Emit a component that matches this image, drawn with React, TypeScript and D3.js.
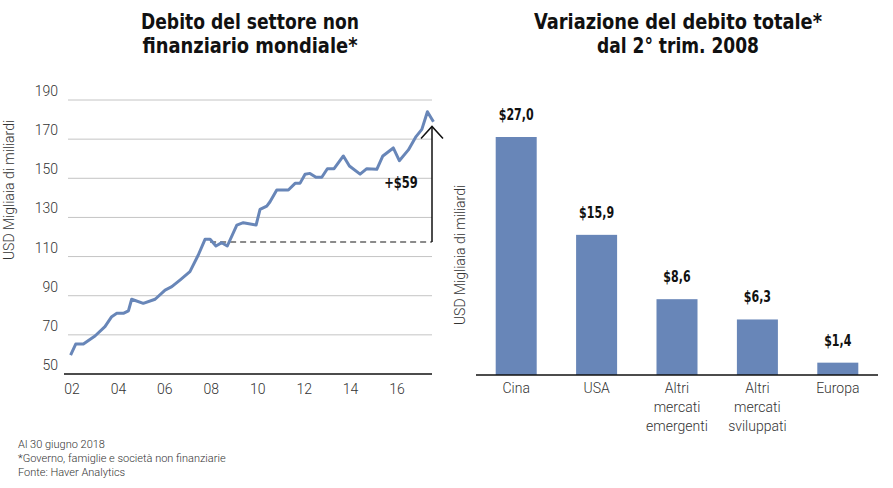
import React from "react";
import * as d3 from "d3";

// ---- Left chart data (decimal year, USD thousands of billions) ----
const lineDates = [
  2001.94, 2002.16, 2002.49, 2002.99, 2003.42, 2003.71, 2003.93, 2004.21, 2004.43, 2004.57,
  2005.07, 2005.58, 2006.01, 2006.3, 2006.65, 2007.08, 2007.44, 2007.73, 2007.95, 2008.2,
  2008.45, 2008.69, 2009.1, 2009.38, 2009.93, 2010.1, 2010.39, 2010.53, 2010.82, 2011.32,
  2011.61, 2011.82, 2012.04, 2012.25, 2012.51, 2012.76, 2013.0, 2013.29, 2013.69, 2013.95,
  2014.41, 2014.7, 2015.13, 2015.39, 2015.84, 2016.1, 2016.49, 2016.82, 2017.07, 2017.31,
  2017.57,
];
const lineValues = [
  59.7, 65.3, 65.3, 69.4, 74.2, 79.3, 81, 81, 82.3, 88.2,
  86.1, 88.2, 92.9, 94.6, 98, 102.3, 110.8, 118.8, 118.8, 115.4,
  117.1, 115.4, 126.1, 127.3, 126.1, 134.1, 135.8, 138, 144, 144,
  147.4, 147.4, 152.1, 152.5, 150.5, 150.5, 154.9, 154.9, 161.4, 156.3,
  152.1, 154.9, 154.6, 161.4, 165.5, 159, 164.5, 171.3, 175, 184,
  178.9,
];
const yTicksLeft = [50, 70, 90, 110, 130, 150, 170, 190];
const xTickYears = [2002, 2004, 2006, 2008, 2010, 2012, 2014, 2016];
const xTickLabels = ["02", "04", "06", "08", "10", "12", "14", "16"];
const refStartYear = 2007.95;
const refValue = 117.5;
const refDelta = 59;
const refLabel = "+$59";

// ---- Right chart data ----
const barCategories = ["Cina", "USA", "Altri mercati emergenti", "Altri mercati sviluppati", "Europa"];
const barLabelLines = [["Cina"], ["USA"], ["Altri", "mercati", "emergenti"], ["Altri", "mercati", "sviluppati"], ["Europa"]];
const barValues = [27.0, 15.9, 8.6, 6.3, 1.4];

const titleLeft = ["Debito del settore non", "finanziario mondiale*"];
const titleRight = ["Variazione del debito totale*", "dal 2° trim. 2008"];
const yAxisLabel = "USD Migliaia di miliardi";
const footnotes = ["Al 30 giugno 2018", "*Governo, famiglie e società non finanziarie", "Fonte: Haver Analytics"];

const BLUE = "#6886b8";
const TEXT = "#333333";
const FONT = "Roboto, 'Liberation Sans', sans-serif";
const BOLD = "'DejaVu Sans Condensed', Roboto, sans-serif";

function BoldLabel({ x, y, size, sx, children }: { x: number; y: number; size: number; sx: number; children: React.ReactNode }) {
  return (
    <g transform={`translate(${x},${y}) scale(${sx},1)`}>
      <text x={0} y={0} textAnchor="middle" fontFamily={BOLD} fontWeight="bold" fontSize={size} fill="#111">{children}</text>
    </g>
  );
}

export default function App() {
  // left scales
  const x = d3.scaleLinear().domain([2002, 2016]).range([72, 397]);
  const y = d3.scaleLinear().domain([50, 190]).range([374, 100]);
  const pts: [number, number][] = lineDates.map((d, i) => [d, lineValues[i]]);
  const line = d3
    .line<[number, number]>()
    .x((d) => x(d[0]))
    .y((d) => y(d[1]));
  const gridX0 = 68;
  const gridX1 = 432;
  const arrowX = gridX1;
  const arrowBaseY = y(refValue);
  const arrowTopY = y(refValue + refDelta);

  // right scales
  const xb = d3.scaleBand<string>().domain(barCategories).range([476, 878]).paddingInner(0.49).paddingOuter(0.245);
  const yb = d3.scaleLinear().domain([0, 27]).range([375, 137]);
  const fmt = (v: number) => "$" + d3.format(".1f")(v).replace(".", ",");

  return (
    <svg width={893} height={488} style={{ position: "absolute", left: 0, top: 0, background: "#fff" }}>
      {/* Titles */}
      {titleLeft.map((t, i) => (
        <text key={"tl" + i} x={250} y={29 + i * 24} textAnchor="middle" fontFamily={BOLD} fontWeight="bold" fontSize={21} fill="#111"
          textLength={i === 0 ? 218 : 215} lengthAdjust="spacingAndGlyphs">{t}</text>
      ))}
      {titleRight.map((t, i) => (
        <text key={"tr" + i} x={678} y={29 + i * 24} textAnchor="middle" fontFamily={BOLD} fontWeight="bold" fontSize={21} fill="#111"
          textLength={i === 0 ? 288 : 162} lengthAdjust="spacingAndGlyphs">{t}</text>
      ))}

      {/* Left chart grid */}
      {yTicksLeft.map((t) => (
        <g key={"yt" + t}>
          {t !== 50 && <line x1={gridX0} x2={gridX1} y1={y(t)} y2={y(t)} stroke="#c4c4c4" strokeWidth={1} />}
          <text x={58} y={y(t) - 4} textAnchor="end" fontFamily={FONT} fontWeight={300} fontSize={14} fill={TEXT}>{t}</text>
        </g>
      ))}
      <line x1={64} x2={gridX1} y1={y(50)} y2={y(50)} stroke="#111" strokeWidth={1.5} />
      {xTickYears.map((yr, i) => (
        <text key={"xt" + yr} x={x(yr)} y={394} textAnchor="middle" fontFamily={FONT} fontWeight={300} fontSize={14} fill={TEXT}>{xTickLabels[i]}</text>
      ))}
      <text transform={`translate(14,${190}) rotate(-90)`} textAnchor="middle" fontFamily={FONT} fontWeight={300} fontSize={14} fill={TEXT}>{yAxisLabel}</text>

      {/* reference dashed line and arrow */}
      <line x1={x(refStartYear)} x2={arrowX} y1={arrowBaseY} y2={arrowBaseY} stroke="#666" strokeWidth={1.5} strokeDasharray="6,4" />
      <path d={line(pts) || ""} fill="none" stroke={BLUE} strokeWidth={3} strokeLinejoin="round" />
      <line x1={arrowX} x2={arrowX} y1={arrowBaseY} y2={arrowTopY} stroke="#111" strokeWidth={1.5} />
      <path d={`M${arrowX - 11},${arrowTopY + 12} L${arrowX},${arrowTopY} L${arrowX + 11},${arrowTopY + 12}`} fill="none" stroke="#111" strokeWidth={1.5} />
      <BoldLabel x={401} y={188} size={15} sx={0.85}>{refLabel}</BoldLabel>

      {/* Right bar chart */}
      <text transform={`translate(465,${255}) rotate(-90)`} textAnchor="middle" fontFamily={FONT} fontWeight={300} fontSize={14} fill={TEXT}>{yAxisLabel}</text>
      {barCategories.map((c, i) => {
        const bx = xb(c) || 0;
        const bw = xb.bandwidth();
        const top = yb(barValues[i]);
        return (
          <g key={"b" + c}>
            <rect x={bx} y={top} width={bw} height={yb(0) - top} fill={BLUE} />
            <BoldLabel x={bx + bw / 2} y={top - 17} size={15} sx={0.82}>{fmt(barValues[i])}</BoldLabel>
            {barLabelLines[i].map((l, j) => (
              <text key={j} x={bx + bw / 2} y={393 + j * 19} textAnchor="middle" fontFamily={FONT} fontWeight={300} fontSize={14} fill={TEXT}>{l}</text>
            ))}
          </g>
        );
      })}
      <line x1={476} x2={878} y1={yb(0)} y2={yb(0)} stroke="#111" strokeWidth={1.5} />

      {/* Footnotes */}
      {footnotes.map((f, i) => (
        <text key={"f" + i} x={18} y={448 + i * 14} fontFamily={FONT} fontWeight={300} fontSize={11} fill={TEXT}>{f}</text>
      ))}
    </svg>
  );
}
